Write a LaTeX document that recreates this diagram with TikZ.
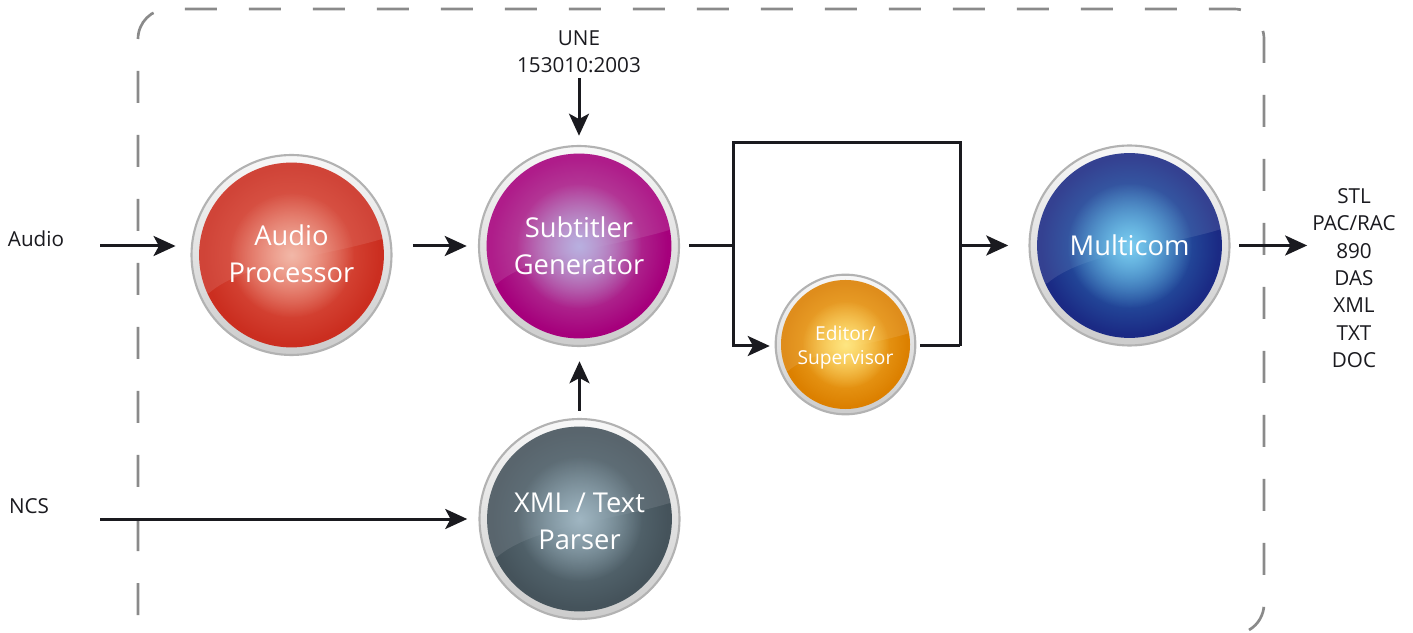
\documentclass[tikz,border=0pt]{standalone}
\usepackage{fontspec}
\setmainfont{Open Sans}
\usetikzlibrary{arrows.meta,calc,fadings}
\definecolor{ra}{HTML}{F2B8A8}\definecolor{rb}{HTML}{E66A58}\definecolor{rc}{HTML}{CB2E20}
\definecolor{pa}{HTML}{B8B0E0}\definecolor{pb}{HTML}{BC70B0}\definecolor{pc}{HTML}{A6007C}
\definecolor{ba}{HTML}{7CCDF0}\definecolor{bb}{HTML}{3484C4}\definecolor{bc}{HTML}{1B2A84}
\definecolor{ga}{HTML}{A0B6C2}\definecolor{gb}{HTML}{6A808A}\definecolor{gc}{HTML}{45535B}
\definecolor{oa}{HTML}{FEE682}\definecolor{ob}{HTML}{F8B838}\definecolor{oc}{HTML}{DC8000}
\definecolor{ink}{HTML}{1A1A1F}
\tikzfading[name=spotfade,inner color=transparent!0,outer color=transparent!100]
\tikzset{
  wire/.style={draw=ink,line width=2.25pt,line join=miter},
  flow/.style={wire,-{Stealth[length=16.5pt,width=15pt,inset=4pt]}},
  frameline/.style={draw=black!46,line width=2pt,dash pattern=on 24pt off 24pt},
  ringface/.style={top color=white!97!black,middle color=white!90!black,bottom color=black!20,draw=black!30,line width=1.6pt},
  balltext/.style={circle,inner sep=0pt,text=white,align=center,font=\fontsize{20.5}{27.75}\selectfont},
  smalltext/.style={circle,inner sep=0pt,text=white,align=center,font=\fontsize{14.4}{18.2}\selectfont},
  plainlabel/.style={inner sep=0pt,text=ink,align=center,font=\fontsize{15.5}{20.5}\selectfont}
}
% name, x, y, outer radius in px, colour prefix, node style, text
\newcommand{\glassball}[7]{%
  \begin{scope}[shift={(#2,#3)},x={#4*0.75pt},y={#4*0.75pt}]
    \shade[ringface] (0,0) circle[radius=0.99];
    \fill[#5c] (0,0) circle[radius=0.915];
    \begin{scope}
      \clip (0,0) circle[radius=0.915];
      \fill[white,opacity=0.11] (-1,-0.375) -- (-0.815,-0.375) .. controls (-0.46,-0.07) and (0.32,-0.02) .. (0.915,0.165) -- (1,0.165) -- (1,1) -- (-1,1) -- cycle;
    \end{scope}
    \shade[path fading=spotfade,inner color=#5b,outer color=#5b] (0,0) circle[radius=0.88];
    \shade[path fading=spotfade,inner color=#5a,outer color=#5a] (0,0) circle[radius=0.62];
  \end{scope}
  \node[#6,minimum size={2*#4*0.75pt}] (#1) at (#2,#3) {#7};
}
\begin{document}
\begin{tikzpicture}[x=0.75pt,y=0.75pt]
\useasboundingbox (0,0) rectangle (1413,632);
% dashed system boundary
\draw[frameline] (138,17) -- (138,593) arc[start angle=180,end angle=90,radius=30]
  -- (1234,623) arc[start angle=90,end angle=0,radius=30]
  -- (1264,28) arc[start angle=0,end angle=-60,radius=30];
% balls
\glassball{audio}{291.5}{377}{101}{r}{balltext,yshift=0.75pt}{Audio\\Processor}
\glassball{sub}{579}{386}{101}{p}{balltext}{Subtitler\\Generator}
\glassball{parser}{579.5}{113}{101}{g}{balltext,yshift=-1.5pt}{XML / Text\\Parser}
\glassball{multi}{1129.5}{386.5}{101}{b}{balltext}{Multicom}
\glassball{editor}{845.5}{287.5}{70.5}{o}{smalltext,yshift=-2.2pt}{Editor/\\Supervisor}
% labels
\node[plainlabel] (audiolab) at (36,393) {Audio};
\node[plainlabel] (ncslab) at (29,126) {NCS};
\node[plainlabel] (une) at (579,580) {UNE\\153010:2003};
\node[plainlabel] (out) at (1354,354) {STL\\PAC/RAC\\890\\DAS\\XML\\TXT\\DOC};
% connector bends and free ends
\coordinate (audioin) at (100,386);
\coordinate (ncsin) at (100,113);
\coordinate (jl) at (733,386);
\coordinate (jt) at (733,489);
\coordinate (kt) at (960,489);
\coordinate (jb) at (733,286);
\coordinate (kb) at (960,286);
\coordinate (kr) at (960,386.5);
% connectors
\draw[flow,shorten >=11pt] (audioin) -- (audioin -| audio.west);
\draw[flow,shorten <=15pt,shorten >=8.25pt] (sub.west -| audio.east) -- (sub.west);
\draw[flow,shorten >=8.25pt] (ncsin) -- (ncsin -| parser.west);
\draw[flow,shorten <=3.5pt,shorten >=6.75pt] (une.south) -- (sub.north);
\draw[flow,shorten <=6.75pt,shorten >=10.5pt] (parser.north) -- (parser.north |- sub.south);
\draw[wire,shorten <=6.75pt] (sub.east) -- (jl);
\draw[wire] (jl) -- (jt) -- (kt) -- (kb);
\draw[flow,shorten >=3.75pt] (jl) -- (jb) -- (jb -| editor.west);
\draw[wire,shorten <=3pt] (kb -| editor.east) -- (kb);
\draw[flow,shorten >=15pt] (kr) -- (kr -| multi.west);
\draw[flow,shorten <=6.25pt,shorten >=3.75pt] (multi.east) -- (multi.east -| out.west);
\end{tikzpicture}
\end{document}
